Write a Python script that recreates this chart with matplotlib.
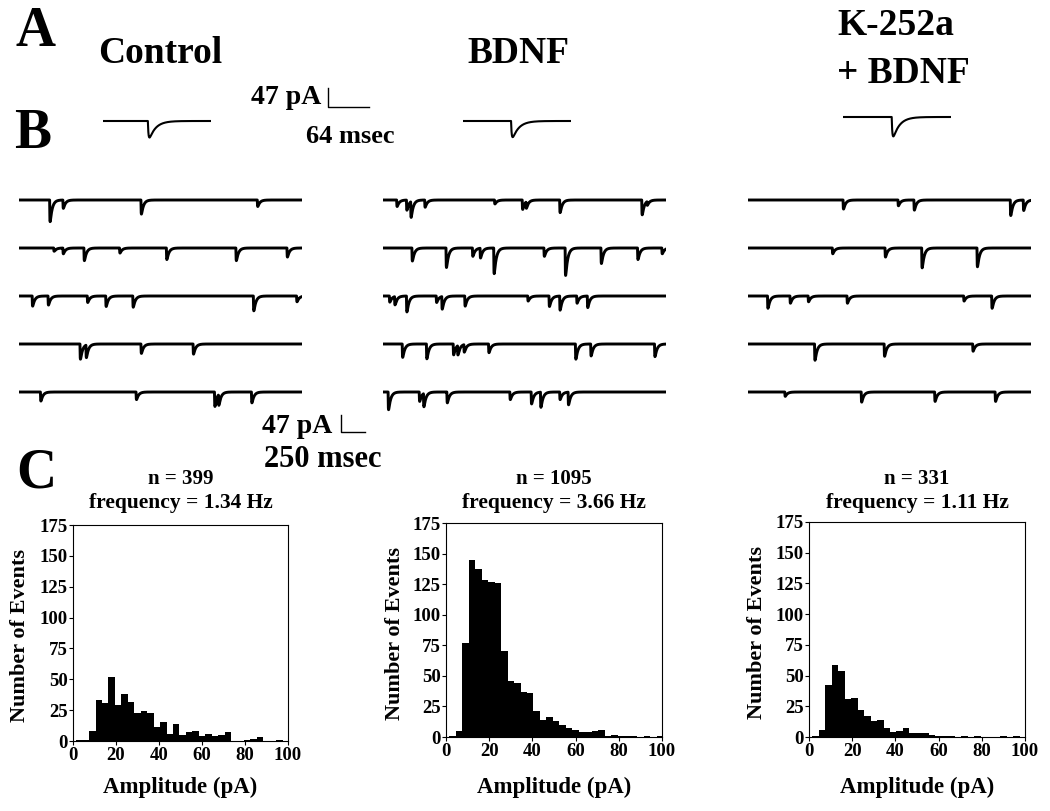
import numpy as np
import matplotlib
matplotlib.use("Agg")
import matplotlib.pyplot as plt
from matplotlib.ticker import MultipleLocator

# ---------------- data ----------------
conditions = ["Control", "BDNF", "K-252a\n+ BDNF"]
n_events = [399, 1095, 331]
frequencies_hz = [1.34, 3.66, 1.11]

# histogram bin centres (pA), bin width 3 pA
amp_bin_centers = [3, 6, 9, 12, 15, 18, 21, 24, 27, 30, 33, 36, 39, 42, 45, 48, 51,
                   54, 57, 60, 63, 66, 69, 72, 75, 78, 81, 84, 87, 90, 93, 96, 99]
control_counts = [1, 1, 8, 33, 31, 52, 29, 38, 32, 23, 24, 23, 11, 15, 6, 14, 5,
                  7, 8, 4, 6, 4, 5, 7, 0, 0, 1, 2, 3, 0, 0, 1, 0]
bdnf_counts = [1, 5, 77, 145, 137, 128, 127, 126, 70, 46, 44, 37, 36, 21, 14, 16, 13,
               10, 7, 6, 4, 4, 5, 6, 1, 2, 1, 1, 1, 0, 1, 0, 1]
k252a_counts = [1, 6, 42, 59, 54, 31, 32, 22, 17, 13, 14, 7, 4, 5, 7, 3, 3,
                3, 2, 1, 1, 1, 0, 1, 0, 1, 0, 0, 0, 1, 0, 1, 0]
bin_width = 3

# Panel A: averaged mEPSC (amplitude pA, onset ms)
avg_amplitudes = [41, 40, 48]
avg_onsets_ms = [70, 75, 76]

# Panel B: event times (s) and amplitudes (pA), 5 sweeps per condition
control_times = [[0.319, 0.457, 1.270, 2.482],
                 [0.361, 0.457, 0.676, 1.047, 1.535, 2.259, 2.791],
                 [0.137, 0.302, 0.711, 0.903, 1.185, 2.441, 2.891],
                 [0.635, 0.697, 1.270, 1.813],
                 [0.223, 1.219, 2.036, 2.077, 2.421]]
control_amps = [[60, 23, 39, 18],
                [9, 16, 35, 14, 32, 35, 25],
                [28, 25, 18, 29, 31, 41, 16],
                [42, 35, 26, 28],
                [25, 21, 40, 30, 30]]
bdnf_times = [[0.142, 0.244, 0.288, 0.434, 1.161, 1.450, 1.489, 1.840, 2.695, 2.749],
              [0.301, 0.656, 0.931, 1.011, 1.153, 1.676, 1.897, 2.270, 2.651, 2.904],
              [0.066, 0.120, 0.244, 0.554, 0.612, 0.851, 1.507, 1.729, 1.840, 2.017, 2.128],
              [0.200, 0.452, 0.731, 0.776, 0.842, 1.099, 2.004, 2.163, 2.828],
              [0.053, 0.377, 0.421, 0.665, 1.321, 1.543, 1.640, 1.840, 1.928]]
bdnf_amps = [[18, 28, 44, 20, 11, 26, 18, 35, 41, 11],
             [36, 54, 23, 27, 71, 23, 76, 43, 32, 16],
             [17, 23, 44, 18, 35, 28, 14, 29, 39, 20, 32],
             [37, 41, 30, 26, 21, 24, 42, 33, 35],
             [49, 26, 37, 30, 21, 33, 42, 21, 35]]
k252a_times = [[0.990, 1.562, 1.728, 2.732, 2.867],
               [0.878, 1.427, 1.809, 2.385],
               [0.203, 0.437, 0.626, 1.031, 2.246, 2.538],
               [0.693, 1.418, 2.340, 2.952],
               [0.383, 1.179, 1.944, 2.574]]
k252a_amps = [[25, 16, 28, 43, 29],
              [16, 25, 55, 52],
              [34, 20, 16, 20, 14, 34],
              [45, 34, 20, 27],
              [12, 28, 26, 26]]

# ---------------- layout helpers ----------------
W, H = 1050, 811
fig = plt.figure(figsize=(W / 100, H / 100), dpi=100)
plt.rcParams['font.family'] = ['Liberation Serif', 'DejaVu Serif']
plt.rcParams['font.weight'] = 'bold'


def box(x0, y0, x1, y1):
    return [x0 / W, 1 - y1 / H, (x1 - x0) / W, (y1 - y0) / H]


def ftext(x, y, s, size, ha='left', va='baseline', **kw):
    fig.text(x / W, 1 - y / H, s, fontsize=size, ha=ha, va=va,
             fontweight='bold', **kw)


def epsc(t, onset, amp, tau_r, tau_d):
    tp = tau_r * tau_d / (tau_d - tau_r) * np.log(tau_d / tau_r)
    norm = np.exp(-tp / tau_d) - np.exp(-tp / tau_r)
    s = t - onset
    out = np.zeros_like(t)
    m = s >= 0
    out[m] = -amp * (np.exp(-s[m] / tau_d) - np.exp(-s[m] / tau_r)) / norm
    return out


# ---------------- panel labels & titles ----------------
ftext(16, 46, "A", 40)
ftext(14, 148, "B", 40)
ftext(16, 487, "C", 40)
ftext(98, 63, "Control", 27)
ftext(467, 63, "BDNF", 27)
ftext(837, 35, "K-252a", 27)
ftext(837, 83, "+ BDNF", 27)

# ---------------- panel A ----------------
A_dur = 168.0
A_pxms = 41 / 64
A_pxpa = 19 / 47
A_x0 = [103, 463, 843]
A_base = [121, 121, 117]
tA = np.arange(0, A_dur, 0.25)
for i in range(3):
    x0 = A_x0[i]
    x1 = x0 + A_dur * A_pxms
    y0, y1 = A_base[i] - 21, A_base[i] + 29
    ax = fig.add_axes(box(x0, y0, x1, y1))
    ax.set_xlim(0, A_dur)
    ax.set_ylim(-(29 / A_pxpa), 21 / A_pxpa)
    ax.plot(tA, epsc(tA, avg_onsets_ms[i], avg_amplitudes[i], 1.0, 10.0),
            color='black', lw=1.5)
    ax.axis('off')

# scale bar A
sb = fig.add_axes(box(328, 88, 369, 107))
sb.set_xlim(0, 64)
sb.set_ylim(0, 47)
sb.plot([0, 0, 64], [47, 0, 0], color='black', lw=1.0, clip_on=False)
sb.axis('off')
ftext(251, 104, "47 pA", 20)
ftext(306, 143, "64 msec", 19)

# ---------------- panel B ----------------
B_dur = 2.95
B_pxs = 24 / 0.25
B_pxpa = 17 / 47
row_spacing_px = 48
B_x0 = [19, 383, 748]
tB = np.arange(0, B_dur, 0.001)
all_times = [control_times, bdnf_times, k252a_times]
all_amps = [control_amps, bdnf_amps, k252a_amps]
for c in range(3):
    x0 = B_x0[c]
    x1 = x0 + B_dur * B_pxs
    top, bot = 170, 420
    ax = fig.add_axes(box(x0, top, x1, bot))
    ax.set_xlim(0, B_dur)
    ytop = (200 - top) / B_pxpa
    ax.set_ylim(ytop - (bot - top) / B_pxpa, ytop)
    for r in range(5):
        offset = -r * row_spacing_px / B_pxpa
        y = np.full_like(tB, offset)
        for tt, aa in zip(all_times[c][r], all_amps[c][r]):
            y += epsc(tB, tt, aa, 0.002, 0.022)
        ax.plot(tB, y, color='black', lw=2.1, solid_joinstyle='round')
    ax.axis('off')

# scale bar B
sb2 = fig.add_axes(box(341, 415, 365, 432))
sb2.set_xlim(0, 0.25)
sb2.set_ylim(0, 47)
sb2.plot([0, 0, 0.25], [47, 0, 0], color='black', lw=1.0, clip_on=False)
sb2.axis('off')
ftext(262, 433, "47 pA", 20)
ftext(264, 467, "250 msec", 22)

# ---------------- panel C ----------------
hist_boxes = [(73, 525, 288, 741), (446, 523, 662, 737), (809, 522, 1025, 737)]
ylabel_x = [20, 395, 757]
counts_all = [control_counts, bdnf_counts, k252a_counts]
for i in range(3):
    x0, y0, x1, y1 = hist_boxes[i]
    ax = fig.add_axes(box(x0, y0, x1, y1))
    ax.bar(amp_bin_centers, counts_all[i], width=bin_width, color='black',
           linewidth=0, align='center')
    ax.set_xlim(0, 100)
    ax.set_ylim(0, 175)
    ax.xaxis.set_major_locator(MultipleLocator(20))
    ax.yaxis.set_major_locator(MultipleLocator(25))
    ax.tick_params(direction='out', length=3, width=0.8, labelsize=13.5, pad=1)
    for lab in ax.get_xticklabels() + ax.get_yticklabels():
        lab.set_fontweight('bold')
    for sp in ax.spines.values():
        sp.set_linewidth(0.8)
    cx = (x0 + x1) / 2
    ftext(cx, 484, "n = %d" % n_events[i], 15, ha='center')
    ftext(cx, 508, "frequency = %.2f Hz" % frequencies_hz[i], 15.5, ha='center')
    ftext(cx, 793, "Amplitude (pA)", 16.5, ha='center')
    fig.text(ylabel_x[i] / W, 1 - ((y0 + y1) / 2 + 3) / H, "Number of Events",
             rotation=90, fontsize=16, fontweight='bold', ha='center', va='center')

fig.savefig("out.png", dpi=100)
